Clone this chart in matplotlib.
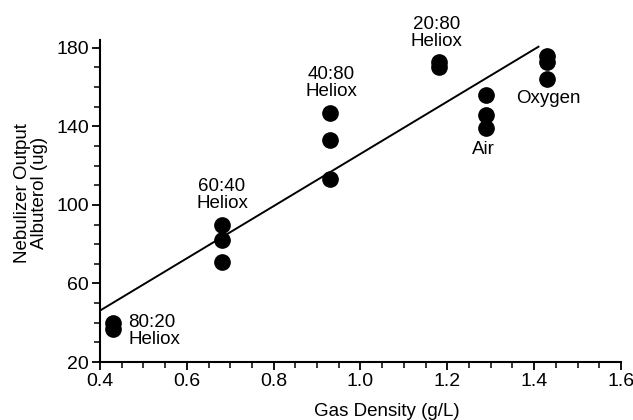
import numpy as np
import matplotlib
matplotlib.use("Agg")
import matplotlib.pyplot as plt
from matplotlib.ticker import MultipleLocator, FormatStrFormatter

plt.rcParams['font.family'] = ['Liberation Sans', 'DejaVu Sans']

# gas density (g/L) and albuterol output (ug)
density = [0.43, 0.43,
           0.68, 0.68, 0.68,
           0.93, 0.93, 0.93,
           1.18, 1.18,
           1.29, 1.29, 1.29,
           1.43, 1.43, 1.43]
output = [40, 37,
          90, 82, 71,
          147, 133, 113,
          173, 170,
          156, 146, 139,
          176, 173, 164]

# regression line
fit_slope = 133.0
fit_intercept = -7.0
fit_range = [0.40, 1.41]

labels = ["80:20\nHeliox", "60:40\nHeliox", "40:80\nHeliox",
          "20:80\nHeliox", "Air", "Oxygen"]
label_x = [0.465, 0.681, 0.932, 1.175, 1.283, 1.433]
label_y = [36, 105, 162, 187.5, 128, 154]
label_ha = ["left", "center", "center", "center", "center", "center"]

fig = plt.figure(figsize=(6.33, 4.2), dpi=100)
ax = fig.add_axes([0.158, 0.138, 0.823, 0.767])

fx = np.array(fit_range)
ax.plot(fx, fit_slope * fx + fit_intercept, color='black', lw=1.4, zorder=2)
ax.plot(density, output, 'o', color='black', ms=11, zorder=3)

for t, x, y, ha in zip(labels, label_x, label_y, label_ha):
    ax.text(x, y, t, ha=ha, va='center', fontsize=13.5, linespacing=1.0,
            clip_on=False)

ax.set_xlim(0.4, 1.6)
ax.set_ylim(20, 184)
ax.xaxis.set_major_locator(MultipleLocator(0.2))
ax.xaxis.set_minor_locator(MultipleLocator(0.05))
ax.xaxis.set_major_formatter(FormatStrFormatter('%.1f'))
ax.set_yticks([20, 60, 100, 140, 180])
ax.yaxis.set_minor_locator(MultipleLocator(10))

ax.spines['top'].set_visible(False)
ax.spines['right'].set_visible(False)
for s in ['left', 'bottom']:
    ax.spines[s].set_linewidth(1.5)
ax.tick_params(which='major', length=6, width=1.3, labelsize=14,
               direction='out', pad=2)
ax.tick_params(which='minor', length=4, width=1.1, direction='out')

ax.set_xlabel("Gas Density (g/L)", fontsize=13.5)
ax.xaxis.set_label_coords(0.551, -0.128)
ax.set_ylabel("Nebulizer Output\nAlbuterol (ug)", fontsize=13.5,
              linespacing=1.0)
ax.yaxis.set_label_coords(-0.1, 0.525)

fig.savefig("out.png", dpi=100)
